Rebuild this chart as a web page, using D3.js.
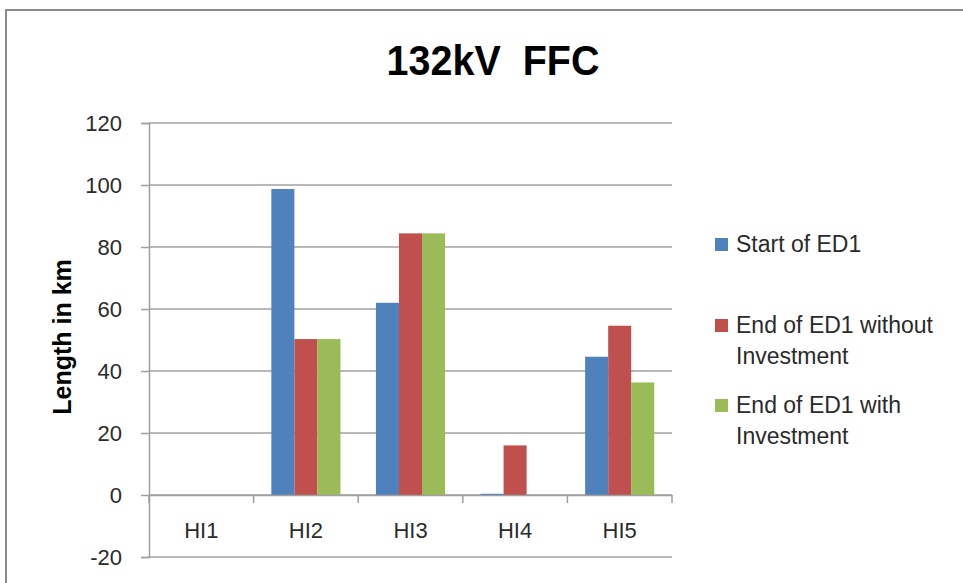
<!DOCTYPE html>
<html>
<head>
<meta charset="utf-8">
<script src="https://cdn.jsdelivr.net/npm/d3@7"></script>
<style>
  html, body { margin: 0; padding: 0; background: #fff; }
  svg { display: block; font-family: "Liberation Sans", Arial, sans-serif; }
</style>
</head>
<body>
<svg id="chart" width="963" height="583"></svg>
<script>
// Circuit length by health index band, 132kV FFC
const categories = ["HI1", "HI2", "HI3", "HI4", "HI5"];
const seriesNames = ["Start of ED1", "End of ED1 without Investment", "End of ED1 with Investment"];
const startOfED1 = [0, 98.7, 62.0, 0.4, 44.6];
const endWithoutInvestment = [0, 50.3, 84.4, 16.0, 54.6];
const endWithInvestment = [0, 50.3, 84.4, 0, 36.3];
const yTicks = [-20, 0, 20, 40, 60, 80, 100, 120];
const colors = ["#4f81bd", "#c0504d", "#9bbb59"];

const seriesValues = [startOfED1, endWithoutInvestment, endWithInvestment];

const svg = d3.select("#chart");
const plot = { left: 149, right: 672, top: 123, bottom: 557 };
const textColor = "#2b2b2b";
const lineColor = "#a0a0a0";

// outer chart frame (extends past the visible edges)
svg.append("rect")
  .attr("x", 6).attr("y", 10).attr("width", 1000).attr("height", 620)
  .attr("fill", "#fff").attr("stroke", "#8c8c8c").attr("stroke-width", 2);

const x = d3.scaleBand().domain(categories).range([plot.left, plot.right]);
const inner = d3.scaleBand().domain(d3.range(seriesNames.length))
  .range([0, x.bandwidth()]).paddingOuter(0.77).paddingInner(0);
const y = d3.scaleLinear().domain([-20, 120]).range([plot.bottom, plot.top]);

// horizontal gridlines
svg.append("g").selectAll("line").data(yTicks).join("line")
  .attr("x1", plot.left).attr("x2", plot.right)
  .attr("y1", d => y(d)).attr("y2", d => y(d))
  .attr("stroke", lineColor).attr("stroke-width", 1.5);

// bars
const groups = svg.append("g").selectAll("g").data(categories).join("g")
  .attr("transform", d => `translate(${x(d)},0)`);
groups.selectAll("rect")
  .data((c, i) => seriesValues.map((vals, s) => ({ s, v: vals[i] })))
  .join("rect")
  .attr("x", d => inner(d.s))
  .attr("width", inner.bandwidth())
  .attr("y", d => y(Math.max(0, d.v)))
  .attr("height", d => Math.abs(y(d.v) - y(0)))
  .attr("fill", d => colors[d.s]);

// y axis
const yAxis = d3.axisLeft(y).tickValues(yTicks).tickSize(8).tickPadding(19)
  .tickFormat(d => String(d));
const gy = svg.append("g").attr("transform", `translate(${plot.left},0)`).call(yAxis);
gy.select(".domain").attr("stroke", lineColor).attr("stroke-width", 1.5);
gy.selectAll(".tick line").attr("stroke", lineColor).attr("stroke-width", 1.5);
gy.selectAll(".tick text").attr("font-size", 22).attr("fill", textColor)
  .attr("font-family", "Liberation Sans, Arial, sans-serif");

// category axis along zero
const xAxis = d3.axisBottom(x).tickSize(0).tickPadding(27);
const gx = svg.append("g").attr("transform", `translate(0,${y(0)})`).call(xAxis);
gx.select(".domain").attr("stroke", lineColor).attr("stroke-width", 1.5);
gx.selectAll(".tick text").attr("font-size", 22).attr("fill", textColor)
  .attr("font-family", "Liberation Sans, Arial, sans-serif");
// category separator ticks
const bounds = categories.map(c => x(c)).concat([x(categories[categories.length - 1]) + x.bandwidth()]);
svg.append("g").selectAll("line").data(bounds).join("line")
  .attr("x1", d => d).attr("x2", d => d)
  .attr("y1", y(0)).attr("y2", y(0) + 8)
  .attr("stroke", lineColor).attr("stroke-width", 1.5);

// title
svg.append("text")
  .attr("x", 493).attr("y", 75)
  .attr("text-anchor", "middle")
  .attr("font-size", 42).attr("font-weight", "bold").attr("fill", "#000")
  .attr("transform", "translate(493,0) scale(0.94,1) translate(-493,0)")
  .attr("xml:space", "preserve")
  .text("132kV  FFC");

// y axis title
svg.append("text")
  .attr("transform", "translate(71,337) rotate(-90)")
  .attr("text-anchor", "middle")
  .attr("font-size", 25).attr("font-weight", "bold").attr("fill", "#000")
  .text("Length in km");

// legend
const legendItems = [
  { lines: ["Start of ED1"], y: 244 },
  { lines: ["End of ED1 without", "Investment"], y: 325 },
  { lines: ["End of ED1 with", "Investment"], y: 405 }
];
const lg = svg.append("g").selectAll("g").data(legendItems).join("g");
lg.append("rect")
  .attr("x", 715).attr("y", d => d.y - 6).attr("width", 13).attr("height", 13)
  .attr("fill", (d, i) => colors[i]);
lg.append("text")
  .attr("x", 736).attr("y", d => d.y + 8)
  .attr("font-size", 23).attr("fill", textColor)
  .selectAll("tspan").data(d => d.lines).join("tspan")
  .attr("x", 736).attr("dy", (d, i) => i === 0 ? 0 : 31)
  .text(d => d);
</script>
</body>
</html>
